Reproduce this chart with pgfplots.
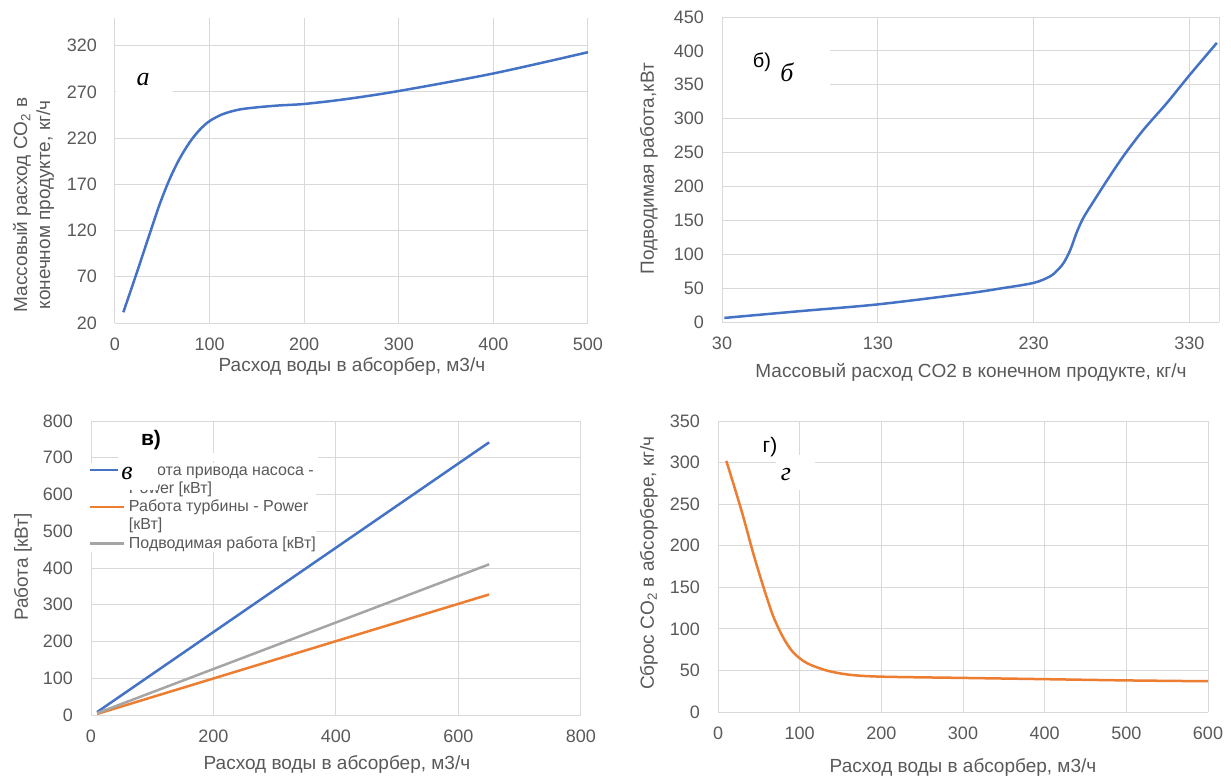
\documentclass[border=0pt]{standalone}
\usepackage{fontspec}
\setmainfont{Liberation Sans}
\newfontfamily\tnr{Liberation Serif}
\usepackage{pgfplots}
\pgfplotsset{compat=1.18}
\definecolor{xblue}{HTML}{4472C4}
\definecolor{xorange}{HTML}{ED7D31}
\definecolor{xgray}{HTML}{A5A5A5}
\definecolor{gridc}{HTML}{D9D9D9}
\definecolor{labc}{HTML}{595959}

\pgfplotsset{
  panel/.style={
    scale only axis,
    axis line style={draw=none},
    grid=major,
    major grid style={draw=gridc, line width=0.5pt},
    major tick length=0pt,
    tick label style={font=\fontsize{9}{11}\selectfont, text=labc},
    label style={font=\fontsize{9.5}{11.5}\selectfont, text=labc},
    xticklabel style={yshift=-4pt},
    yticklabel style={xshift=-5.5pt},
    /pgf/number format/assume math mode=true,
    /pgf/number format/1000 sep={},
    clip=false,
  },
}

\begin{document}
\begin{tikzpicture}
\useasboundingbox (0,0) rectangle (615.5pt,389pt);

% a
\begin{axis}[panel,
  at={(57.5pt,227.5pt)}, anchor=south west,
  width=236.5pt, height=152.5pt,
  xmin=0, xmax=500, ymin=20, ymax=350,
  xtick={0,100,...,500}, ytick={20,70,...,320},
  xlabel={Расход воды в абсорбер, м3/ч},
  ylabel={Массовый расход CO\textsubscript{2} в\\конечном продукте, кг/ч},
  ylabel style={align=center, at={(axis description cs:-0.172,0.387)}, anchor=center},
  xlabel style={at={(axis description cs:0.501,-0.144)}, anchor=center},
]
\addplot[xblue, line width=1.25pt, smooth] coordinates {
  (8.8,31.6) (22.8,73.7) (36.8,116.9) (47.4,149) (57.9,176) (68.4,198)
  (78.9,215.5) (89.5,229) (100,238.5) (114,246) (131.6,251) (152.6,253.6)
  (173.7,255.4) (200,257) (242.5,262) (300,271) (400,290) (500,313)
};
\end{axis}

% b
\begin{axis}[panel,
  at={(361pt,228pt)}, anchor=south west,
  width=248.5pt, height=152.5pt,
  xmin=30, xmax=349, ymin=0, ymax=450,
  xtick={30,130,230,330}, ytick={0,50,...,450},
  extra x ticks={349}, extra x tick labels={},
  xlabel={Массовый расход CO2 в конечном продукте, кг/ч},
  ylabel={Подводимая работа,кВт},
  ylabel style={at={(axis description cs:-0.147,0.502)}, anchor=center},
  xlabel style={at={(axis description cs:0.501,-0.164)}, anchor=center},
]
\addplot[xblue, line width=1.25pt, smooth] coordinates {
  (31.5,6) (80,16) (130,26) (187,42) (208.6,49.4) (230,57.7)
  (240.7,67.5) (246,78) (249.5,88) (253.5,106) (257.8,133) (262,154)
  (268.5,178) (277,208.5) (287.7,245) (300.5,283.6) (315.5,323) (330,364)
  (347.6,411.8)
};
\end{axis}

% c
\begin{axis}[panel,
  at={(45.5pt,31.5pt)}, anchor=south west,
  width=245pt, height=147pt,
  xmin=0, xmax=800, ymin=0, ymax=800,
  xtick={0,200,...,800}, ytick={0,100,...,800},
  xlabel={Расход воды в абсорбер, м3/ч},
  ylabel={Работа [кВт]},
  ylabel style={at={(axis description cs:-0.139,0.503)}, anchor=center},
  xlabel style={at={(axis description cs:0.502,-0.170)}, anchor=center},
  legend image code/.code={\draw[#1] (0pt,2.5pt) -- (17pt,2.5pt);},
  legend style={at={(axis description cs:-0.006,0.857)}, anchor=north west,
    draw=none, fill=white, inner sep=0pt, row sep=1.8pt, column sep=2pt,
    font=\fontsize{8}{9}\selectfont, text=labc,
    cells={anchor=base west},
    nodes={inner sep=0pt, text depth=}},
]
\addplot[xblue, line width=1.25pt] coordinates {(10,8) (650,742)};
\addplot[xorange, line width=1.25pt] coordinates {(10,3) (650,328)};
\addplot[xgray, line width=1.25pt] coordinates {(10,5) (650,410)};
\legend{{\vtop{\hbox{Работа привода насоса -}\hbox{Power [кВт]}}},
  {\vtop{\hbox{Работа турбины - Power}\hbox{[кВт]}}},
  {Подводимая работа [кВт]}}
\end{axis}

% d
\begin{axis}[panel,
  at={(359pt,33pt)}, anchor=south west,
  width=245pt, height=145.5pt,
  xmin=0, xmax=600, ymin=0, ymax=350,
  xtick={0,100,...,600}, ytick={0,50,...,350},
  xlabel={Расход воды в абсорбер, м3/ч},
  ylabel={Сброс CO\textsubscript{2} в абсорбере, кг/ч},
  ylabel style={at={(axis description cs:-0.141,0.512)}, anchor=center},
  xlabel style={at={(axis description cs:0.5,-0.189)}, anchor=center},
]
\addplot[xorange, line width=1.25pt, smooth] coordinates {
  (10.2,302) (18.4,276) (30.6,236) (42.8,192) (55.1,152) (67.3,116)
  (79.6,90) (91.8,72) (108.2,59.2) (132.7,50) (161.2,44.8) (200,42.5)
  (300,41) (400,39.5) (500,38) (600,37)
};
\end{axis}

% panel marks
\fill[white] (57.8pt,341pt) rectangle (86.5pt,358pt);
\node[font=\tnr\itshape\fontsize{13}{13}\selectfont] at (71.5pt,349pt) {а};

\fill[white] (361.5pt,344pt) rectangle (415pt,366.5pt);
\node[font=\fontsize{10}{10}\selectfont] at (381pt,358pt) {б)};
\node[font=\tnr\itshape\fontsize{13}{13}\selectfont] at (393.5pt,353pt) {б};

\fill[white] (79pt,158.5pt) rectangle (159pt,162.5pt);
\fill[white] (59pt,144pt) rectangle (79pt,177.5pt);
\node[font=\bfseries\fontsize{10.5}{10.5}\selectfont] at (75.5pt,169pt) {в)};
\node[font=\tnr\itshape\fontsize{13}{13}\selectfont] at (63.5pt,152.5pt) {в};

\fill[white] (388pt,144pt) rectangle (407.5pt,161.5pt);
\node[font=\fontsize{10.5}{10.5}\selectfont] at (385pt,165.5pt) {г)};
\node[font=\tnr\itshape\fontsize{13}{13}\selectfont] at (393pt,151.5pt) {г};
\end{tikzpicture}
\end{document}
